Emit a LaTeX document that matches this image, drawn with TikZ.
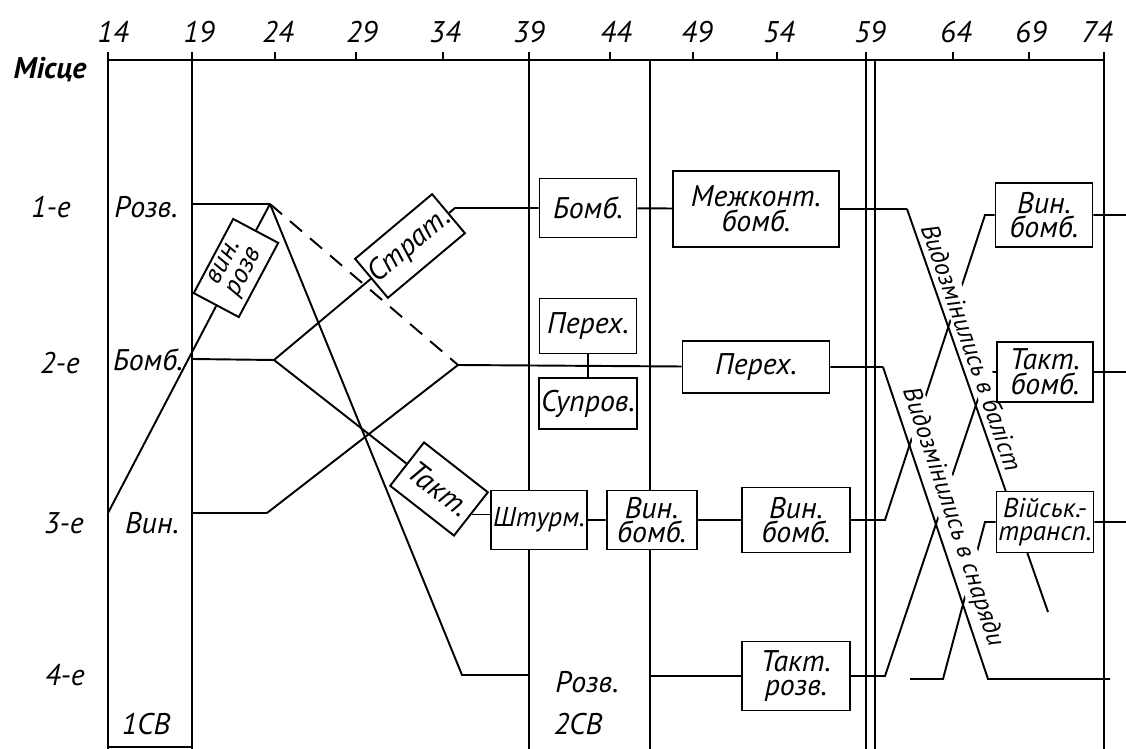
\documentclass[tikz,border=0pt]{standalone}
\usepackage{fontspec}
\setmainfont{PT Sans}
\usetikzlibrary{positioning, backgrounds}

\begin{document}
\begin{tikzpicture}[
    x=0.02cm, y=-0.02cm,
    line width=1.1pt,
    font=\itshape\fontsize{17}{14}\selectfont,
    node distance=0.46cm,
    plane/.style={draw, fill=white, align=center, inner sep=1pt},
    small/.style={font=\itshape\fontsize{15.5}{13}\selectfont},
    year/.style={font=\itshape\fontsize{17}{17}\selectfont},
    change/.style={sloped, above=2pt, fill=white, inner sep=1pt, font=\itshape\fontsize{14.5}{14.5}\selectfont},
    gap/.style={dash pattern=on 9pt off 6pt},
]
\useasboundingbox (0,0) rectangle (1126,749);

\foreach \yr/\xx in {14/113, 19/199, 24/278, 29/362, 34/445, 39/529, 44/616, 49/697, 54/779, 59/870, 64/956, 69/1031, 74/1097}
    \node[year] (t\yr) at (\xx,32) {\yr};
\node[font=\bfseries\itshape\fontsize{17}{17}\selectfont] (mistse) at (50,70) {Місце};
\foreach \n/\xx/\yy in {1/51/207, 2/60/363, 3/64/523, 4/65/675}
    \node[year] (row\n) at (\xx,\yy) {\n-е};

\node (rozv0) at (146,207) {Розв.};
\node (bomb0) at (148,360) {Бомб.};
\node (vin0) at (152,523) {Вин.};
\node (sv1) at (146,724) {1СВ};
\node (rozv2) at (587,682) {Розв.};
\node (sv2) at (578,724) {2СВ};

\node[plane, small, rotate=62, minimum width=1.68cm, minimum height=1.02cm] (vinrozv) at (236,268) {вин.\\розв};
\node[plane, rotate=40, minimum width=1.86cm, minimum height=1.02cm] (strat) at (410,246) {Страт.};
\node[plane, rotate=-38, minimum width=1.62cm, minimum height=1.1cm] (takt) at (439,489) {Такт.};
\node[plane, minimum width=1.94cm, minimum height=1.18cm] (bomb1) at (588,208) {Бомб.};
\node[plane, minimum width=3.32cm, minimum height=1.52cm] (mezh) at (756,209) {Межконт.\\бомб.};
\node[plane, minimum width=1.94cm, minimum height=1.1cm] (perex1) at (588,326) {Перех.};
\node[plane, minimum width=1.94cm, minimum height=1.02cm, below=of perex1] (suprov) {Супров.};
\node[plane, minimum width=2.94cm, minimum height=1.04cm] (perex2) at (756,367) {Перех.};
\node[plane, small, minimum width=1.7cm, minimum height=1.18cm] (shturm) at (539,520) {Штурм.};
\node[plane, minimum width=1.8cm, minimum height=1.18cm, right=0.36cm of shturm] (vinb1) {Вин.\\бомб.};
\node[plane, minimum width=2.16cm, minimum height=1.3cm] (vinb2) at (796,520) {Вин.\\бомб.};
\node[plane, minimum width=2.16cm, minimum height=1.38cm] (taktr) at (796,676) {Такт.\\розв.};
\node[plane, minimum width=1.94cm, minimum height=1.28cm] (vinb3) at (1044,215) {Вин.\\бомб.};
\node[plane, minimum width=1.92cm, minimum height=1.2cm] (taktb) at (1045,372) {Такт.\\бомб.};
\node[plane, small, minimum width=1.92cm, minimum height=1.22cm] (viysk) at (1045,522) {Військ.-\\трансп.};

\coordinate (s1) at (192,204);
\coordinate (s2) at (192,359);
\coordinate (s3) at (192,513);
\coordinate (w3) at (108,513);
\coordinate (j1) at (270,204);
\coordinate (j2) at (274,360);
\coordinate (j3) at (267,513);
\coordinate (j4) at (458,365);
\coordinate (j5) at (455,208);
\coordinate (j6) at (462,675);
\coordinate (c4) at (529,675);
\coordinate (d4) at (650,676);
\coordinate (k1) at (907,209);
\coordinate (k2) at (883,367);
\coordinate (k3) at (885,520);
\coordinate (k4) at (885,676);
\coordinate (k5) at (1048,612);
\coordinate (k6) at (988,679);
\coordinate (k7) at (1110,679);
\coordinate (m0) at (910,679);
\coordinate (m1) at (985,215);
\coordinate (m2) at (987,372);
\coordinate (m3) at (985,522);
\coordinate (m4) at (943,679);
\coordinate (e1) at (1126,215);
\coordinate (e2) at (1126,372);
\coordinate (e3) at (1126,522);

\begin{scope}[on background layer={line width=1.1pt}]
\foreach \xx in {108,192,529,866,1104}
    \draw (\xx,52) -- (\xx,749);
\foreach \xx in {650,875}
    \draw (\xx,60) -- (\xx,749);
\draw (108,60) -- (1104,60);
\draw (108,747) -- (192,747);
\foreach \xx in {275,356,443,610,693,777,953,1029}
    \draw (\xx,52) -- (\xx,60);

\draw (s1) -- (j1);
\draw (s2) -- (j2);
\draw (s3) -- (j3);
\draw (w3) -- (vinrozv) -- (j1);
\draw (j1) -- (j6) -- (c4);
\draw[gap] (j1) -- (j4);
\draw (j2) -- (strat) -- (j5) -- (bomb1) -- (mezh) -- (k1);
\draw (j2) -- (takt);
\draw (takt.east) -- (takt.east -| shturm.west);
\draw (j3) -- (j4) -- (perex2) -- (k2);
\draw (perex1) -- (suprov);
\draw (shturm) -- (vinb1) -- (vinb2) -- (k3) -- (m1) -- (vinb3) -- (e1);
\draw (d4) -- (taktr) -- (k4) -- (m2) -- (taktb) -- (e2);
\draw (m0) -- (m4) -- (m3) -- (viysk) -- (e3);
\draw (k1) -- (k5) node[change, pos=0.356] (balist) {Видозмінились в баліст};
\draw (k2) -- (k6) node[change, pos=0.5] (snaryad) {Видозмінились в снаряди} -- (k7);
\end{scope}
\end{tikzpicture}
\end{document}
